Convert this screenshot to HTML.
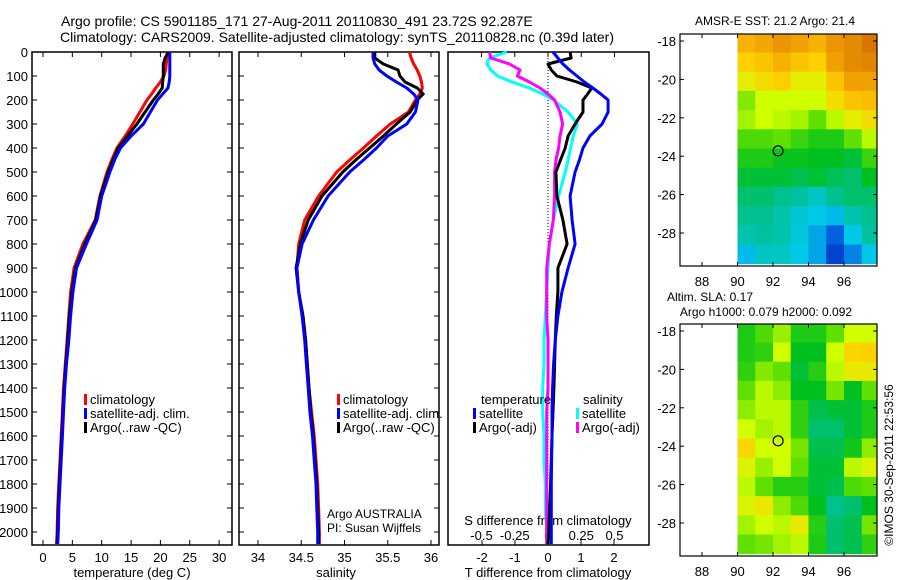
<!DOCTYPE html>
<html><head><meta charset="utf-8"><style>
body{margin:0;background:#fff}
svg{display:block;font-family:"Liberation Sans",sans-serif}
</style></head><body>
<svg id="fig" width="900" height="580" xmlns="http://www.w3.org/2000/svg">
<rect width="900" height="580" fill="#fff"/>
<text x="61" y="26" font-size="14">Argo profile: CS 5901185_171 27-Aug-2011 20110830_491 23.72S 92.287E</text>
<text x="60" y="42" font-size="14" textLength="554">Climatology: CARS2009. Satellite-adjusted climatology: synTS_20110828.nc (0.39d later)</text>
<text x="775" y="25" font-size="12" text-anchor="middle">AMSR-E SST: 21.2 Argo: 21.4</text>
<text x="710" y="301" font-size="12" text-anchor="middle">Altim. SLA: 0.17</text>
<text x="766" y="316" font-size="12" text-anchor="middle">Argo h1000: 0.079 h2000: 0.092</text>
<text transform="translate(893,465) rotate(-90)" font-size="12" text-anchor="middle">©IMOS 30-Sep-2011 22:53:56</text>
<g id="g"></g>
</svg>
<script>
const depths=[0,25,50,75,100,125,150,175,200,250,300,350,400,450,500,600,700,800,900,1000,1100,1200,1300,1400,1500,1600,1700,1800,1900,2000,2050];
const tempClim=[21.1,21.1,21.0,20.9,20.6,20.0,19.2,18.5,17.7,16.5,15.3,14.0,12.6,11.7,10.9,9.7,8.9,6.8,5.3,4.7,4.4,4.1,3.8,3.5,3.3,3.1,2.9,2.7,2.5,2.4,2.3];
const tempSat=[21.6,21.6,21.6,21.6,21.6,21.5,21.3,20.4,19.5,18.3,17.1,15.0,13.2,12.2,11.4,10.0,9.2,7.4,5.7,5.1,4.7,4.4,4.0,3.7,3.5,3.3,3.1,2.9,2.7,2.6,2.5];
const tempArgo=[21.4,20.8,20.5,20.5,20.5,20.4,20.3,19.6,18.8,17.4,16.0,14.4,12.8,11.9,11.1,9.8,9.0,7.1,5.5,4.9,4.5,4.2,3.9,3.6,3.4,3.2,3.0,2.8,2.6,2.5,2.4];
const salClim=[35.75,35.77,35.80,35.84,35.87,35.89,35.90,35.87,35.82,35.74,35.53,35.37,35.22,35.06,34.91,34.70,34.54,34.47,34.45,34.47,34.52,34.55,34.57,34.59,34.62,34.65,34.67,34.69,34.70,34.71,34.71];
const salSat=[35.33,35.33,35.35,35.40,35.49,35.60,35.72,35.80,35.85,35.82,35.72,35.50,35.37,35.22,35.06,34.81,34.64,34.51,34.45,34.47,34.51,34.54,34.56,34.58,34.60,34.63,34.65,34.67,34.68,34.69,34.69];
const salArgo=[35.35,35.35,35.45,35.62,35.64,35.70,35.84,35.91,35.84,35.76,35.60,35.45,35.29,35.13,34.98,34.74,34.58,34.49,34.44,34.47,34.52,34.55,34.57,34.59,34.61,34.64,34.66,34.68,34.69,34.70,34.70];
const dT_sat=[0.15,0.3,0.45,0.65,0.88,1.1,1.36,1.6,1.82,1.82,1.64,1.27,1.06,0.95,0.82,0.67,0.73,0.82,0.61,0.42,0.3,0.22,0.17,0.14,0.12,0.12,0.11,0.1,0.1,0.1,0.1];
const dT_argo=[0.67,0.7,0.0,0.1,0.27,0.88,1.33,1.2,1.06,1.06,0.82,0.61,0.52,0.38,0.24,0.27,0.45,0.58,0.3,0.3,0.25,0.22,0.2,0.18,0.15,0.12,0.1,0.08,0.05,0.02,0.0];
const dS_sat=[-0.31,-0.44,-0.46,-0.43,-0.38,-0.27,-0.14,-0.04,0.04,0.15,0.22,0.19,0.17,0.15,0.13,0.08,0.04,0.01,0.0,-0.01,-0.02,-0.03,-0.03,-0.04,-0.04,-0.03,-0.03,-0.02,-0.02,-0.01,0.0];
const dS_argo=[-0.44,-0.43,-0.29,-0.21,-0.23,-0.14,-0.06,0.0,0.05,0.09,0.11,0.09,0.08,0.06,0.05,0.05,0.04,0.01,-0.01,-0.01,-0.01,0.0,0.0,0.0,-0.01,-0.01,-0.01,-0.01,-0.01,-0.01,-0.01];
const sstGrid=[
[0.85,0.87,0.9,0.88,0.85,0.9,0.92,0.96],
[0.8,0.82,0.85,0.82,0.8,0.88,0.92,0.93],
[0.75,0.78,0.8,0.75,0.75,0.82,0.88,0.88],
[0.65,0.72,0.72,0.72,0.72,0.78,0.82,0.83],
[0.68,0.72,0.7,0.68,0.62,0.7,0.75,0.78],
[0.6,0.6,0.62,0.58,0.55,0.55,0.62,0.7],
[0.55,0.55,0.53,0.53,0.52,0.52,0.5,0.58],
[0.5,0.5,0.5,0.48,0.5,0.47,0.45,0.52],
[0.45,0.45,0.42,0.4,0.35,0.42,0.45,0.45],
[0.42,0.42,0.38,0.33,0.3,0.28,0.38,0.42],
[0.38,0.4,0.38,0.32,0.25,0.15,0.3,0.4],
[0.28,0.35,0.35,0.3,0.25,0.1,0.2,0.3]];
const slaGrid=[
[0.55,0.6,0.67,0.55,0.55,0.62,0.72,0.72],
[0.55,0.57,0.72,0.52,0.52,0.72,0.79,0.8],
[0.57,0.65,0.62,0.5,0.56,0.7,0.76,0.76],
[0.62,0.7,0.66,0.52,0.52,0.64,0.52,0.62],
[0.66,0.7,0.7,0.57,0.48,0.5,0.5,0.55],
[0.72,0.68,0.7,0.57,0.45,0.45,0.5,0.55],
[0.79,0.72,0.72,0.64,0.48,0.48,0.54,0.66],
[0.74,0.67,0.72,0.62,0.5,0.5,0.7,0.74],
[0.7,0.62,0.56,0.56,0.5,0.48,0.6,0.62],
[0.74,0.76,0.66,0.6,0.52,0.42,0.45,0.52],
[0.68,0.72,0.7,0.76,0.56,0.45,0.48,0.64],
[0.62,0.64,0.68,0.7,0.55,0.45,0.48,0.57]];
const depthTicks=[0,100,200,300,400,500,600,700,800,900,1000,1100,1200,1300,1400,1500,1600,1700,1800,1900,2000];
const tempTicks=[0,5,10,15,20,25,30];
const salTicks=[34,34.5,35,35.5,36];
const salTickLabels=["34","34.5","35","35.5","36"];
const dTTicks=[-2,-1,0,1,2];
const dSTicks=[-0.5,-0.25,0,0.25,0.5];
const dSTickLabels=["-0.5","-0.25","0","0.25","0.5"];
const latTicks=[-18,-20,-22,-24,-26,-28];
const lonTicks=[88,90,92,94,96];
const floatLon=92.287, floatLat=-23.72;

const NS="http://www.w3.org/2000/svg";
const G=document.getElementById('g');
function mk(tag,attrs,parent){const e=document.createElementNS(NS,tag);for(const k in attrs)e.setAttribute(k,attrs[k]);(parent||G).appendChild(e);return e;}
function txt(x,y,s,size,anchor,parent){const t=mk('text',{x:x,y:y,'font-size':size,'text-anchor':anchor||'start'},parent);t.textContent=s;return t;}

const TOP=52,BOT=545;
const yD=d=>TOP+d*0.24;
const P1={l:32,r:232}, P2={l:239,r:439}, P3={l:448,r:649};
const xT=v=>43+v*5.87;
const xS=v=>258+(v-34)*86.5;
const xDT=v=>548+v*33;
const xDS=v=>548+v*133;

function frame(P,name){const r=mk('rect',{x:P.l,y:TOP,width:P.r-P.l,height:BOT-TOP,fill:'none',stroke:'#000','stroke-width':1.5});

}
function line(xs,ys,fx,color,name,w){let d='';for(let i=0;i<xs.length;i++){d+=(i?'L':'M')+fx(xs[i]).toFixed(1)+','+yD(ys[i]).toFixed(1);}
const p=mk('path',{d:d,fill:'none',stroke:color,'stroke-width':w||3,'stroke-linejoin':'round'});

}

frame(P1,'temperature-panel');
depthTicks.forEach(d=>{const y=yD(d);mk('line',{x1:P1.l,x2:P1.l+5,y1:y,y2:y,stroke:'#000'});mk('line',{x1:P1.r-5,x2:P1.r,y1:y,y2:y,stroke:'#000'});
const t=txt(28,y+5,String(d),13,'end');

});
tempTicks.forEach(v=>{const x=xT(v);mk('line',{x1:x,x2:x,y1:TOP,y2:TOP+5,stroke:'#000'});mk('line',{x1:x,x2:x,y1:BOT-5,y2:BOT,stroke:'#000'});
const t=txt(x,562,String(v),13,'middle');

});
txt(132,577,'temperature (deg C)',13,'middle');
line(tempClim,depths,xT,'#f00','temp-climatology-line');
line(tempArgo,depths,xT,'#000','temp-argo-line');
line(tempSat,depths,xT,'#00f','temp-satellite-line');

frame(P2,'salinity-panel');
depthTicks.forEach(d=>{const y=yD(d);mk('line',{x1:P2.l,x2:P2.l+5,y1:y,y2:y,stroke:'#000'});mk('line',{x1:P2.r-5,x2:P2.r,y1:y,y2:y,stroke:'#000'});});
salTicks.forEach((v,i)=>{const x=xS(v);mk('line',{x1:x,x2:x,y1:TOP,y2:TOP+5,stroke:'#000'});mk('line',{x1:x,x2:x,y1:BOT-5,y2:BOT,stroke:'#000'});
const t=txt(x,562,salTickLabels[i],13,'middle');

});
txt(336,577,'salinity',13,'middle');
line(salClim,depths,xS,'#f00','sal-climatology-line');
line(salArgo,depths,xS,'#000','sal-argo-line');
line(salSat,depths,xS,'#00f','sal-satellite-line');
txt(327,518,'Argo AUSTRALIA',12);
txt(327,532,'PI: Susan Wijffels',12);

function legend(x,y,items){items.forEach((it,i)=>{const r=mk('rect',{x:x,y:y+i*14-10,width:3,height:11,fill:it[0]});


const t=txt(x+6,y+i*14,it[1],13);

});}
legend(84,404,[['#f00','climatology'],['#00f','satellite-adj. clim.'],['#000','Argo(..raw -QC)']]);
legend(337,404,[['#f00','climatology'],['#00f','satellite-adj. clim.'],['#000','Argo(..raw -QC)']]);

frame(P3,'difference-panel');
mk('line',{x1:548,x2:548,y1:TOP,y2:480,stroke:'#000','stroke-dasharray':'1,2'});
dTTicks.forEach(v=>{const x=xDT(v);mk('line',{x1:x,x2:x,y1:BOT-5,y2:BOT,stroke:'#000'});
const t=txt(x,562,String(v),13,'middle');

});
dSTicks.forEach((v,i)=>{const x=xDS(v);mk('line',{x1:x,x2:x,y1:TOP,y2:TOP+5,stroke:'#000'});
const t=txt(x,540,dSTickLabels[i],13,'middle');

});
txt(548,525,'S difference from climatology',13,'middle');
txt(548,577,'T difference from climatology',13,'middle');
line(dS_sat,depths,xDS,'#0ff','s-diff-satellite-line');
line(dS_argo,depths,xDS,'#f0f','s-diff-argo-line');
line(dT_argo,depths,xDT,'#000','t-diff-argo-line');
line(dT_sat,depths,xDT,'#00f','t-diff-satellite-line');
txt(481,404,'temperature',13);
txt(583,404,'salinity',13);
legend(473,418,[['#00f','satellite'],['#000','Argo(-adj)']]);
legend(576,418,[['#0ff','satellite'],['#f0f','Argo(-adj)']]);

const stops=[[0,[0,16,160]],[0.15,[0,96,224]],[0.3,[0,200,232]],[0.42,[0,192,144]],[0.52,[0,192,32]],[0.62,[96,224,0]],[0.72,[208,255,0]],[0.8,[255,208,0]],[0.88,[240,160,0]],[1,[208,96,0]]];
function cmap(v){for(let i=1;i<stops.length;i++){if(v<=stops[i][0]){const a=stops[i-1],b=stops[i];const f=(v-a[0])/(b[0]-a[0]);return 'rgb('+a[1].map((c,k)=>Math.round(c+(b[1][k]-c)*f)).join(',')+')';}}return 'rgb(208,96,0)';}
function map(oy,grid,name){
const L=680,R=877,T=oy+34,B=oy+266;
const xL=lon=>702+(lon-88)*17.75, yL=lat=>oy+41+(-18-lat)*19.2;
const g=mk('g',{});


grid.forEach((row,r)=>row.forEach((v,c)=>{
const x0=xL(90+c),x1=Math.min(xL(91+c),R),y0=Math.max(yL(-17.6-r),T),y1=Math.min(yL(-18.6-r),B);
const cell=mk('rect',{x:x0,y:y0,width:x1-x0+0.5,height:y1-y0+0.5,fill:cmap(v)},g);

}));
mk('rect',{x:L,y:T,width:R-L,height:B-T,fill:'none',stroke:'#000','stroke-width':1.2});
latTicks.forEach(la=>{const y=yL(la);mk('line',{x1:L,x2:L+4,y1:y,y2:y,stroke:'#000'});mk('line',{x1:R-4,x2:R,y1:y,y2:y,stroke:'#000'});
const t=txt(676,y+5,String(la),13,'end');

});
lonTicks.forEach(lo=>{const x=xL(lo);mk('line',{x1:x,x2:x,y1:B-4,y2:B,stroke:'#000'});mk('line',{x1:x,x2:x,y1:T,y2:T+4,stroke:'#000'});
const t=txt(x,oy+286,String(lo),13,'middle');

});
const c=mk('circle',{cx:xL(floatLon),cy:yL(floatLat),r:5,fill:'none',stroke:'#000','stroke-width':1.2});

}
map(0,sstGrid,'sst-map');
map(290,slaGrid,'sla-map');
</script>
</body></html>
